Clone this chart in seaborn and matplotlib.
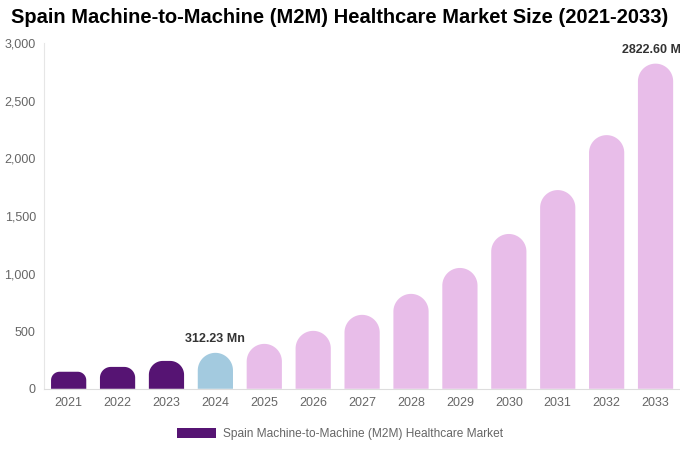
import numpy as np
import pandas as pd
import matplotlib
matplotlib.use("Agg")
import matplotlib.pyplot as plt
import seaborn as sns
from matplotlib.patches import Polygon, Patch
from matplotlib.ticker import FuncFormatter

years = ["2021", "2022", "2023", "2024", "2025", "2026", "2027",
         "2028", "2029", "2030", "2031", "2032", "2033"]
market_size = [148, 190, 242, 312.23, 390, 503, 642, 824, 1049, 1344, 1725, 2202, 2822.60]
labels = {"2024": "312.23 Mn", "2033": "2822.60 Mn"}

dark = "#561473"
blue = "#a3cadf"
pink = "#e8bde9"
colors = [dark, dark, dark, blue] + [pink] * 9

df = pd.DataFrame({"year": years, "value": market_size})

sns.set_style("white")
plt.rcParams['font.family'] = ['Liberation Sans', 'DejaVu Sans']

fig = plt.figure(figsize=(6.8, 4.5), dpi=100)
ax = fig.add_axes([0.065, 0.136, 0.935, 0.768])

sns.barplot(data=df, x="year", y="value", hue="year", palette=colors,
            legend=False, width=0.72, ax=ax, saturation=1)
ax.set_xlim(-0.5, len(years) - 0.5)
ax.set_ylim(0, 3000)

# rounded top corners: radius is half the bar width, or half its height if shorter
bbox = ax.get_window_extent()
units_per_px = 3000 / bbox.height
px_per_x = bbox.width / len(years)
for bar in list(ax.patches):
    x0, w, h = bar.get_x(), bar.get_width(), bar.get_height()
    col = bar.get_facecolor()
    bar.remove()
    r_px = min(w * px_per_x / 2, h / units_per_px / 2)
    rx = r_px / px_per_x
    ry = r_px * units_per_px
    t1 = np.linspace(np.pi, np.pi / 2, 20)
    t2 = np.linspace(np.pi / 2, 0, 20)
    left = np.column_stack([x0 + rx + rx * np.cos(t1), h - ry + ry * np.sin(t1)])
    right = np.column_stack([x0 + w - rx + rx * np.cos(t2), h - ry + ry * np.sin(t2)])
    pts = np.vstack([[x0, 0], left, right, [x0 + w, 0]])
    ax.add_patch(Polygon(pts, closed=True, facecolor=col, edgecolor="none"))

for i, y in enumerate(years):
    if y in labels:
        ax.text(i, market_size[i] + 70, labels[y], ha="center", va="bottom",
                fontsize=9, fontweight="bold", color="#333333", clip_on=False)

ax.yaxis.set_major_formatter(FuncFormatter(lambda v, p: f"{int(v):,}"))
ax.set_yticks([0, 500, 1000, 1500, 2000, 2500, 3000])
ax.tick_params(axis="both", colors="#666666", labelsize=9, length=0, pad=6)
ax.set_xlabel("")
ax.set_ylabel("")
for s in ["top", "right"]:
    ax.spines[s].set_visible(False)
ax.spines["left"].set_color("#e6e6e6")
ax.spines["bottom"].set_color("#dddddd")

fig.suptitle("Spain Machine-to-Machine (M2M) Healthcare Market Size (2021-2033)",
             x=0.5, y=0.983, fontsize=14.5, fontweight="bold", color="black")

handle = Patch(facecolor=dark, edgecolor="none")
fig.legend([handle], ["Spain Machine-to-Machine (M2M) Healthcare Market"],
           loc="center", bbox_to_anchor=(0.5, 0.035), frameon=False,
           handlelength=3.3, handleheight=0.9, handletextpad=0.6, fontsize=8.6,
           labelcolor="#666666")

fig.savefig("out.png", dpi=100)
